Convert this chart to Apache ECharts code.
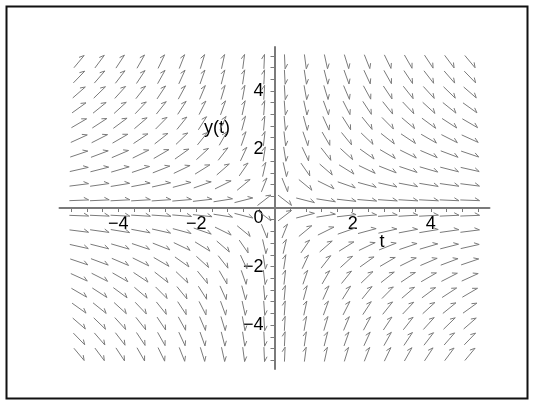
<!DOCTYPE html>
<html><head><meta charset="utf-8">
<script src="https://cdn.jsdelivr.net/npm/echarts@6/dist/echarts.min.js"></script>
<style>html,body{margin:0;padding:0;background:#fff}#c{width:533px;height:404px}</style>
</head><body><div id="c"></div>
<script>
// arrow grid positions (t across, y down from top)
const tGrid = [-5,-4.474,-3.947,-3.421,-2.895,-2.368,-1.842,-1.316,-0.789,-0.263,0.263,0.789,1.316,1.842,2.368,2.895,3.421,3.947,4.474,5];
const yGrid = [5,4.474,3.947,3.421,2.895,2.368,1.842,1.316,0.789,0.263,-0.263,-0.789,-1.316,-1.842,-2.368,-2.895,-3.421,-3.947,-4.474,-5];
// slope dy/dt read at each grid point (row = y, column = t)
const slopes = [
[1.60,1.79,2.03,2.34,2.76,3.38,4.34,6.08,10.14,30.42,-30.42,-10.14,-6.08,-4.34,-3.38,-2.76,-2.34,-2.03,-1.79,-1.60],
[1.38,1.54,1.74,2.01,2.38,2.90,3.73,5.23,8.72,26.15,-26.15,-8.72,-5.23,-3.73,-2.90,-2.38,-2.01,-1.74,-1.54,-1.38],
[1.16,1.30,1.47,1.70,2.01,2.46,3.16,4.42,7.37,22.12,-22.12,-7.37,-4.42,-3.16,-2.46,-2.01,-1.70,-1.47,-1.30,-1.16],
[0.96,1.08,1.22,1.41,1.67,2.04,2.62,3.67,6.11,18.34,-18.34,-6.11,-3.67,-2.62,-2.04,-1.67,-1.41,-1.22,-1.08,-0.96],
[0.78,0.87,0.99,1.14,1.35,1.65,2.12,2.96,4.94,14.83,-14.83,-4.94,-2.96,-2.12,-1.65,-1.35,-1.14,-0.99,-0.87,-0.78],
[0.61,0.68,0.77,0.89,1.05,1.28,1.65,2.31,3.85,11.56,-11.56,-3.85,-2.31,-1.65,-1.28,-1.05,-0.89,-0.77,-0.68,-0.61],
[0.45,0.50,0.57,0.66,0.78,0.95,1.22,1.71,2.85,8.55,-8.55,-2.85,-1.71,-1.22,-0.95,-0.78,-0.66,-0.57,-0.50,-0.45],
[0.30,0.34,0.39,0.45,0.53,0.64,0.83,1.16,1.93,5.79,-5.79,-1.93,-1.16,-0.83,-0.64,-0.53,-0.45,-0.39,-0.34,-0.30],
[0.17,0.19,0.22,0.25,0.30,0.36,0.47,0.66,1.10,3.29,-3.29,-1.10,-0.66,-0.47,-0.36,-0.30,-0.25,-0.22,-0.19,-0.17],
[0.05,0.06,0.07,0.08,0.09,0.11,0.15,0.21,0.34,1.03,-1.03,-0.34,-0.21,-0.15,-0.11,-0.09,-0.08,-0.07,-0.06,-0.05],
[-0.05,-0.06,-0.07,-0.08,-0.09,-0.11,-0.15,-0.21,-0.34,-1.03,1.03,0.34,0.21,0.15,0.11,0.09,0.08,0.07,0.06,0.05],
[-0.17,-0.19,-0.22,-0.25,-0.30,-0.36,-0.47,-0.66,-1.10,-3.29,3.29,1.10,0.66,0.47,0.36,0.30,0.25,0.22,0.19,0.17],
[-0.30,-0.34,-0.39,-0.45,-0.53,-0.64,-0.83,-1.16,-1.93,-5.79,5.79,1.93,1.16,0.83,0.64,0.53,0.45,0.39,0.34,0.30],
[-0.45,-0.50,-0.57,-0.66,-0.78,-0.95,-1.22,-1.71,-2.85,-8.55,8.55,2.85,1.71,1.22,0.95,0.78,0.66,0.57,0.50,0.45],
[-0.61,-0.68,-0.77,-0.89,-1.05,-1.28,-1.65,-2.31,-3.85,-11.56,11.56,3.85,2.31,1.65,1.28,1.05,0.89,0.77,0.68,0.61],
[-0.78,-0.87,-0.99,-1.14,-1.35,-1.65,-2.12,-2.96,-4.94,-14.83,14.83,4.94,2.96,2.12,1.65,1.35,1.14,0.99,0.87,0.78],
[-0.96,-1.08,-1.22,-1.41,-1.67,-2.04,-2.62,-3.67,-6.11,-18.34,18.34,6.11,3.67,2.62,2.04,1.67,1.41,1.22,1.08,0.96],
[-1.16,-1.30,-1.47,-1.70,-2.01,-2.46,-3.16,-4.42,-7.37,-22.12,22.12,7.37,4.42,3.16,2.46,2.01,1.70,1.47,1.30,1.16],
[-1.38,-1.54,-1.74,-2.01,-2.38,-2.90,-3.73,-5.23,-8.72,-26.15,26.15,8.72,5.23,3.73,2.90,2.38,2.01,1.74,1.54,1.38],
[-1.60,-1.79,-2.03,-2.34,-2.76,-3.38,-4.34,-6.08,-10.14,-30.42,30.42,10.14,6.08,4.34,3.38,2.76,2.34,2.03,1.79,1.60]
];
const xTickLabels = [-4,-2,2,4];
const yTickLabels = [-4,-2,0,2,4];
const tickValues = [-5.2,-4.8,-4.4,-4,-3.6,-3.2,-2.8,-2.4,-2,-1.6,-1.2,-0.8,-0.4,0.4,0.8,1.2,1.6,2,2.4,2.8,3.2,3.6,4,4.4,4.8,5.2];

const data = [];
yGrid.forEach((y,j)=>tGrid.forEach((t,i)=>data.push([t,y,slopes[j][i]])));
const chart = echarts.init(document.getElementById('c'));
const cell = 10/19;
const axisCol = '#7a7a7a';
const FONT = 'Liberation Sans, Arial, sans-serif';
const lab = {color:'#000',fontSize:18,fontFamily:FONT};
const minus = v => String(v).replace('-','\u2212');
chart.setOption({
  animation:false,
  grid:{left:59.5,top:47,width:430,height:322},
  xAxis:{type:'value',min:-5.5,max:5.5,position:'bottom',offset:-161,splitLine:{show:false},
    axisLine:{onZero:false,lineStyle:{color:axisCol,width:2}},
    axisTick:{customValues:tickValues,length:4,lineStyle:{color:axisCol,width:1}},
    axisLabel:Object.assign({customValues:xTickLabels,margin:7,formatter:minus},lab)},
  yAxis:{type:'value',min:-5.5,max:5.5,position:'left',offset:-215,splitLine:{show:false},
    axisLine:{onZero:false,lineStyle:{color:axisCol,width:2}},
    axisTick:{customValues:tickValues,length:4,lineStyle:{color:axisCol,width:1}},
    axisLabel:Object.assign({customValues:yTickLabels,margin:11,
      formatter:v=> v===0?'{z|0}':minus(v),
      rich:{z:{fontSize:18,fontFamily:FONT,color:'#000',padding:[20,0,0,0]}}},lab)},
  graphic:[
    {type:'rect',shape:{x:6.5,y:6.5,width:521,height:392},style:{fill:'none',stroke:'#111',lineWidth:2},z:-1},
    {type:'text',x:217,y:128,style:{text:'y(t)',fontSize:18,fontFamily:FONT,fill:'#000',align:'center',verticalAlign:'middle'}},
    {type:'text',x:382,y:242,style:{text:'t',fontSize:18,fontFamily:FONT,fill:'#000',align:'center',verticalAlign:'middle'}}
  ],
  series:[{type:'custom',data:data,clip:false,
    renderItem:function(params,api){
      const t=api.value(0), y=api.value(1), s=api.value(2);
      const c=api.coord([t,y]);
      const sz=api.size([cell,cell]);
      let vx=1, vy=s; const n=Math.hypot(vx,vy); vx/=n; vy/=n;
      const px=vx*sz[0]*0.47, py=-vy*sz[1]*0.47;
      const tail=[c[0]-px,c[1]-py], tip=[c[0]+px,c[1]+py];
      const L=Math.hypot(px,py); const bx=-px/L, by=-py/L;
      const th=30*Math.PI/180, bl=5.5;
      const b=[tip[0]+bl*(bx*Math.cos(th)-by*Math.sin(th)), tip[1]+bl*(bx*Math.sin(th)+by*Math.cos(th))];
      return {type:'polyline',shape:{points:[tail,tip,b]},style:{stroke:'#7a7a7a',lineWidth:1,fill:null}};
    }}]
});
</script></body></html>
